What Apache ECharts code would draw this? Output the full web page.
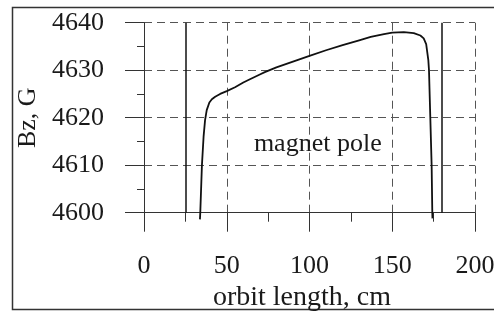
<!DOCTYPE html>
<html>
<head>
<meta charset="utf-8">
<script src="https://cdn.jsdelivr.net/npm/echarts@6/dist/echarts.min.js"></script>
<style>
  html, body { margin: 0; padding: 0; background: #fff; }
  #chart { width: 494px; height: 311px; }
</style>
</head>
<body>
<div id="chart"></div>
<script>
// measured Bz along the orbit
const orbitX = [33.8, 34.0, 35.0, 36.0, 36.9, 37.9, 39.5, 41, 43, 46, 50, 55, 60, 64, 70, 73, 80, 90, 100,
    110, 120, 130, 137, 145, 150, 157, 163, 167, 169, 170.5, 171.8, 172.2, 173, 173.8, 174.2, 174.3];
const bzValues = [4598.6, 4600, 4610, 4616, 4619.5, 4621.6, 4623.2, 4623.9, 4624.4, 4625, 4625.6, 4626.4, 4627.4, 4628.1, 4629.1, 4629.6, 4630.6, 4631.8, 4633,
    4634.2, 4635.3, 4636.3, 4637.0, 4637.6, 4637.9, 4638.0, 4637.8, 4637.3, 4636.7, 4635.5, 4632.1, 4630, 4620, 4610, 4600, 4598.8];
const poleEdges = [25, 180];
const poleLabel = { x: 105, y: 4614.4, text: 'magnet pole' };

const font = 'Liberation Serif';
const chart = echarts.init(document.getElementById('chart'));

const option = {
    animation: false,
    grid: { left: 144, right: 19, top: 22.7, bottom: 98.3, containLabel: false, outerBoundsMode: 'none' },
    graphic: [
        {
            type: 'rect',
            shape: { x: 12.5, y: 7.5, width: 495, height: 302 },
            style: { fill: 'none', stroke: '#333', lineWidth: 1.5 },
        },
    ],
    xAxis: {
        type: 'value',
        min: 0,
        max: 200,
        interval: 50,
        name: 'orbit length, cm',
        nameLocation: 'middle',
        nameGap: 62,
        nameTextStyle: { fontFamily: font, fontSize: 28, color: '#1a1a1a', padding: [0, 15, 0, 0] },
        axisLine: { lineStyle: { color: '#333', width: 1 } },
        axisTick: { length: 19, lineStyle: { color: '#333' } },
        minorTick: { show: true, splitNumber: 2, length: 9, lineStyle: { color: '#333' } },
        axisLabel: { margin: 40, fontFamily: font, fontSize: 26, color: '#1a1a1a' },
        splitLine: { lineStyle: { color: '#555', type: [8, 5] } },
    },
    yAxis: {
        type: 'value',
        min: 4600,
        max: 4640,
        interval: 10,
        name: 'Bz, G',
        nameLocation: 'middle',
        nameGap: 102,
        nameTextStyle: { fontFamily: font, fontSize: 26, color: '#1a1a1a' },
        axisLine: { show: true, lineStyle: { color: '#333', width: 1 } },
        axisTick: { show: true, length: 19, lineStyle: { color: '#333' } },
        minorTick: { show: true, splitNumber: 2, length: 7, lineStyle: { color: '#333' } },
        axisLabel: { margin: 40, fontFamily: font, fontSize: 26, color: '#1a1a1a', formatter: v => String(v) },
        splitLine: { lineStyle: { color: '#555', type: [8, 5] } },
    },
    series: [
        {
            type: 'line',
            data: orbitX.map((x, i) => [x, bzValues[i]]),
            showSymbol: false,
            clip: false,
            lineStyle: { color: '#111', width: 1.8 },
            markLine: {
                silent: true,
                symbol: 'none',
                label: { show: false },
                lineStyle: { color: '#111', width: 1.5, type: 'solid' },
                data: poleEdges.map(x => ({ xAxis: x })),
            },
        },
        {
            type: 'scatter',
            data: [[poleLabel.x, poleLabel.y]],
            symbolSize: 0,
            silent: true,
            itemStyle: { opacity: 1 },
            label: {
                show: true,
                position: 'inside',
                formatter: poleLabel.text,
                fontFamily: font,
                fontSize: 26,
                color: '#1a1a1a',
                opacity: 1,
            },
        },
    ],
};

chart.setOption(option);
</script>
</body>
</html>
